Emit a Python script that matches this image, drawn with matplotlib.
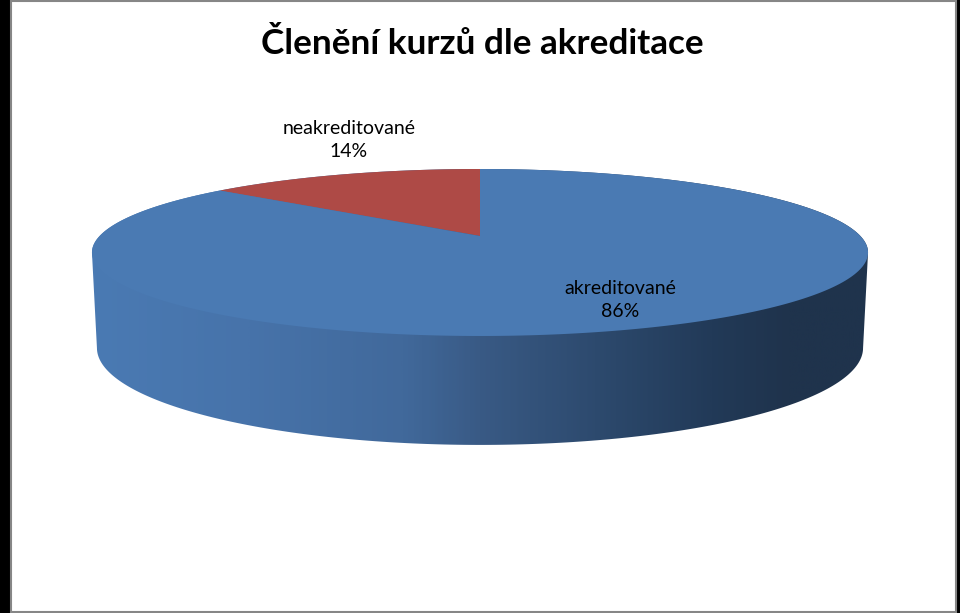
import numpy as np
import matplotlib
matplotlib.use('Agg')
import matplotlib.pyplot as plt
from matplotlib.colors import LinearSegmentedColormap
from matplotlib.patches import Polygon, Rectangle

title = 'Členění kurzů dle akreditace'
labels = ['akreditované', 'neakreditované']
shares = [86, 14]
colors = ['#4a7ab3', '#ae4a46']
label_pos = [(620, 300), (349, 140)]

# the 3d pie is a circle seen in perspective, angle 0 is the far point
persp = 0.1976
centre = (480, 236)


def rim(theta, radius, a, b):
    w = 1 + persp * np.cos(theta)
    return 480 + radius * np.sin(theta) / w, (a * np.cos(theta) + b) / w


def top(theta):
    return rim(theta, 380.4, -33.6, 236)


def bottom(theta):
    return rim(theta, 375.5, -28.2, 328.8)


fig = plt.figure(figsize=(9.6, 6.13), dpi=100, facecolor='black')
ax = fig.add_axes([0, 0, 1, 1])
ax.set_xlim(0, 960)
ax.set_ylim(613, 0)
ax.axis('off')

# chart area with its grey frame
ax.add_patch(Rectangle((11, 1), 945, 611, facecolor='white', edgecolor='#868686', linewidth=1.5))

# side wall, shaded from left to right. goes round the back of the top face so no gap shows at the seam
widest = np.arccos(-persp)
front = np.linspace(widest, 2 * np.pi - widest, 200)
back = np.linspace(-widest, widest, 200)
wall = np.column_stack([np.concatenate([bottom(front)[0], top(back)[0]]),
                        np.concatenate([bottom(front)[1], top(back)[1]])])
wall_patch = Polygon(wall, closed=True, facecolor='none', edgecolor='none')
ax.add_patch(wall_patch)
shade = LinearSegmentedColormap.from_list('wall', [(0, '#4a7ab3'), (0.2, '#4773aa'), (0.4, '#41699b'),
                                                   (0.5, '#395a85'), (0.65, '#2d4a6e'), (0.8, '#223a58'),
                                                   (0.9, '#1f334c'), (1, '#1f334c')])
grad = ax.imshow(np.linspace(0, 1, 400).reshape(1, -1), cmap=shade, extent=(92, 868, 460, 160),
                 aspect='auto', zorder=2)
grad.set_clip_path(wall_patch)
ax.set_xlim(0, 960)
ax.set_ylim(613, 0)

# top face, slices run anticlockwise from the far point
start = 0
for share, color in zip(shares[::-1], colors[::-1]):
    end = start + share / sum(shares) * 2 * np.pi
    t = np.linspace(start, end, 300)
    x, y = top(-t)
    ax.fill(np.append(x, centre[0]), np.append(y, centre[1]), color=color, linewidth=0, zorder=3)
    start = end

for label, share, (x, y) in zip(labels, shares, label_pos):
    ax.text(x, y, f'{label}\n{share}%', ha='center', va='center', fontsize=14, family='Lato',
            color='black', linespacing=1.45, zorder=4)

ax.text(482, 44, title, ha='center', va='center', fontsize=25.3, family='Lato', weight='bold', color='black')

fig.savefig('out.png', dpi=100, facecolor=fig.get_facecolor())
